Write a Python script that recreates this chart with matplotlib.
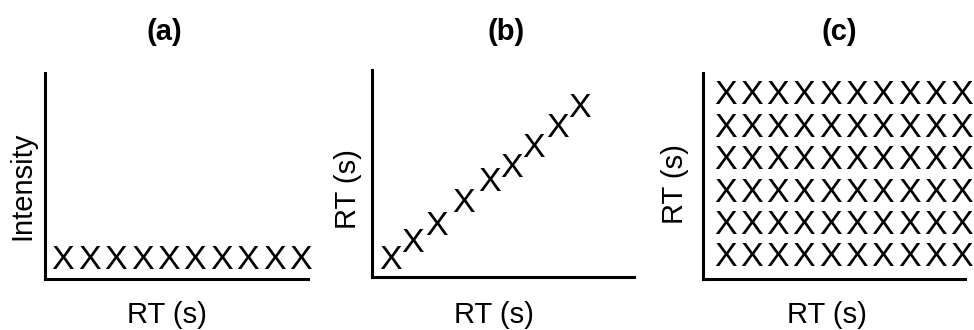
import matplotlib
matplotlib.use("Agg")
import matplotlib.pyplot as plt

plt.rcParams['font.family'] = ['Liberation Sans', 'DejaVu Sans']

# (a) peaks along the RT axis, all at the same intensity
rt_a = [1, 2, 3, 4, 5, 6, 7, 8, 9, 10]
intensity_a = [1] * 10

# (b) RT vs RT, roughly monotone alignment
rt_b_x = [0.69, 1.53, 2.48, 3.50, 4.47, 5.34, 6.15, 7.10, 7.94]
rt_b_y = [0.82, 1.60, 2.46, 3.53, 4.55, 5.23, 6.20, 7.15, 8.12]

# (c) full RT x RT grid
grid_cols = [1, 2, 3, 4, 5, 6, 7, 8, 9, 10]
grid_rows = [1, 2, 3, 4, 5, 6]

titles = ['(a)', '(b)', '(c)']
xlabels = ['RT (s)', 'RT (s)', 'RT (s)']
ylabels = ['Intensity', 'RT (s)', 'RT (s)']

W, H = 974, 330
fig = plt.figure(figsize=(W / 100, H / 100), dpi=100)

# axes boxes in pixels: left, top, right, bottom
boxes = [(45, 73, 308, 279), (372, 70, 634, 277), (703, 73, 965, 279)]
axes = []
for l, t, r, b in boxes:
    ax = fig.add_axes([l / W, 1 - b / H, (r - l) / W, (b - t) / H])
    for side in ['top', 'right']:
        ax.spines[side].set_visible(False)
    for side in ['left', 'bottom']:
        ax.spines[side].set_linewidth(2.2)
    ax.set_xticks([])
    ax.set_yticks([])
    axes.append(ax)

mark_kw = dict(ha='center', va='center', fontsize=24.5)

ax = axes[0]
ax.set_xlim(0.32, 10.28)
ax.set_ylim(0, 11)
for x, y in zip(rt_a, intensity_a):
    ax.text(x, y, 'X', **mark_kw)

ax = axes[1]
ax.set_xlim(0, 10)
ax.set_ylim(0, 10)
for x, y in zip(rt_b_x, rt_b_y):
    ax.text(x, y, 'X', **mark_kw)

ax = axes[2]
ax.set_xlim(0.16, 10.12)
ax.set_ylim(0.35, 6.71)
for y in grid_rows:
    for x in grid_cols:
        ax.text(x, y, 'X', **mark_kw)

xlab_pos = [(0.464, -0.175), (0.466, -0.184), (0.473, -0.175)]
ylab_pos = [(-0.087, 0.451), (-0.092, 0.425), (-0.107, 0.461)]
for ax, xl, yl, xp, yp in zip(axes, xlabels, ylabels, xlab_pos, ylab_pos):
    ax.set_xlabel(xl, fontsize=21, va='center')
    ax.xaxis.set_label_coords(*xp)
    ax.set_ylabel(yl, fontsize=21, va='center')
    ax.yaxis.set_label_coords(*yp)

title_x = [164, 506, 839]
for tx, title in zip(title_x, titles):
    fig.text(tx / W, 1 - 32 / H, title, ha='center', va='center',
             fontsize=21, fontweight='bold')

fig.savefig('out.png', dpi=100)
